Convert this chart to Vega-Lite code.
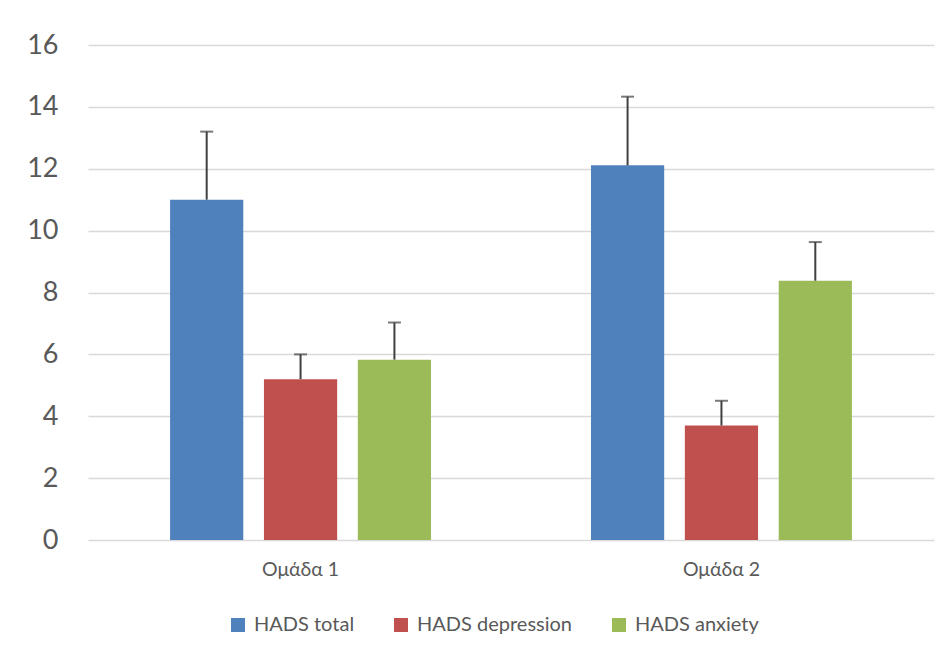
{
  "$schema": "https://vega.github.io/schema/vega-lite/v6.json",
  "width": 846,
  "height": 495,
  "autosize": {"type": "none"},
  "padding": {"left": 88, "top": 45, "right": 17, "bottom": 115},
  "background": "white",
  "config": {
    "view": {"stroke": null},
    "font": "Lato",
    "axis": {"labelFont": "Lato", "labelColor": "#595959"}
  },
  "data": {
    "values": [
      {"group": "Ομάδα 1", "measure": "HADS total", "value": 11.0, "upper": 13.2},
      {"group": "Ομάδα 1", "measure": "HADS depression", "value": 5.2, "upper": 6.0},
      {"group": "Ομάδα 1", "measure": "HADS anxiety", "value": 5.83, "upper": 7.03},
      {"group": "Ομάδα 2", "measure": "HADS total", "value": 12.11, "upper": 14.33},
      {"group": "Ομάδα 2", "measure": "HADS depression", "value": 3.7, "upper": 4.5},
      {"group": "Ομάδα 2", "measure": "HADS anxiety", "value": 8.38, "upper": 9.63}
    ]
  },
  "encoding": {
    "x": {
      "field": "group", "type": "nominal", "title": null,
      "scale": {"paddingInner": 0.38, "paddingOuter": 0.195},
      "axis": {"labelAngle": 0, "labelFontSize": 19.5, "labelPadding": 20, "ticks": false, "domain": false}
    },
    "xOffset": {
      "field": "measure", "type": "nominal",
      "sort": ["HADS total", "HADS depression", "HADS anxiety"],
      "scale": {"paddingInner": 0.22, "paddingOuter": 0}
    }
  },
  "layer": [
    {
      "mark": {"type": "bar"},
      "encoding": {
        "y": {
          "field": "value", "type": "quantitative", "title": null,
          "scale": {"domain": [0, 16], "nice": false},
          "axis": {"values": [0, 2, 4, 6, 8, 10, 12, 14, 16], "labelFontSize": 27, "labelPadding": 30, "ticks": false, "domain": false, "gridColor": "#d9d9d9", "gridWidth": 1.5}
        },
        "color": {
          "field": "measure", "type": "nominal",
          "sort": ["HADS total", "HADS depression", "HADS anxiety"],
          "scale": {"domain": ["HADS total", "HADS depression", "HADS anxiety"], "range": ["#4F81BD", "#C0504D", "#9BBB59"]},
          "legend": {
            "title": null, "orient": "none", "direction": "horizontal",
            "legendX": 140, "legendY": 570,
            "symbolType": "square", "symbolSize": 196, "symbolStrokeWidth": 0,
            "labelFontSize": 20, "labelLimit": 400, "labelColor": "#595959", "labelOffset": 6, "columnPadding": 36
          }
        }
      }
    },
    {
      "mark": {"type": "rule", "color": "#404040", "strokeWidth": 2},
      "encoding": {
        "y": {"field": "value", "type": "quantitative"},
        "y2": {"field": "upper"}
      }
    },
    {
      "mark": {"type": "tick", "color": "#404040", "size": 13, "thickness": 2},
      "encoding": {
        "y": {"field": "upper", "type": "quantitative"}
      }
    }
  ]
}
